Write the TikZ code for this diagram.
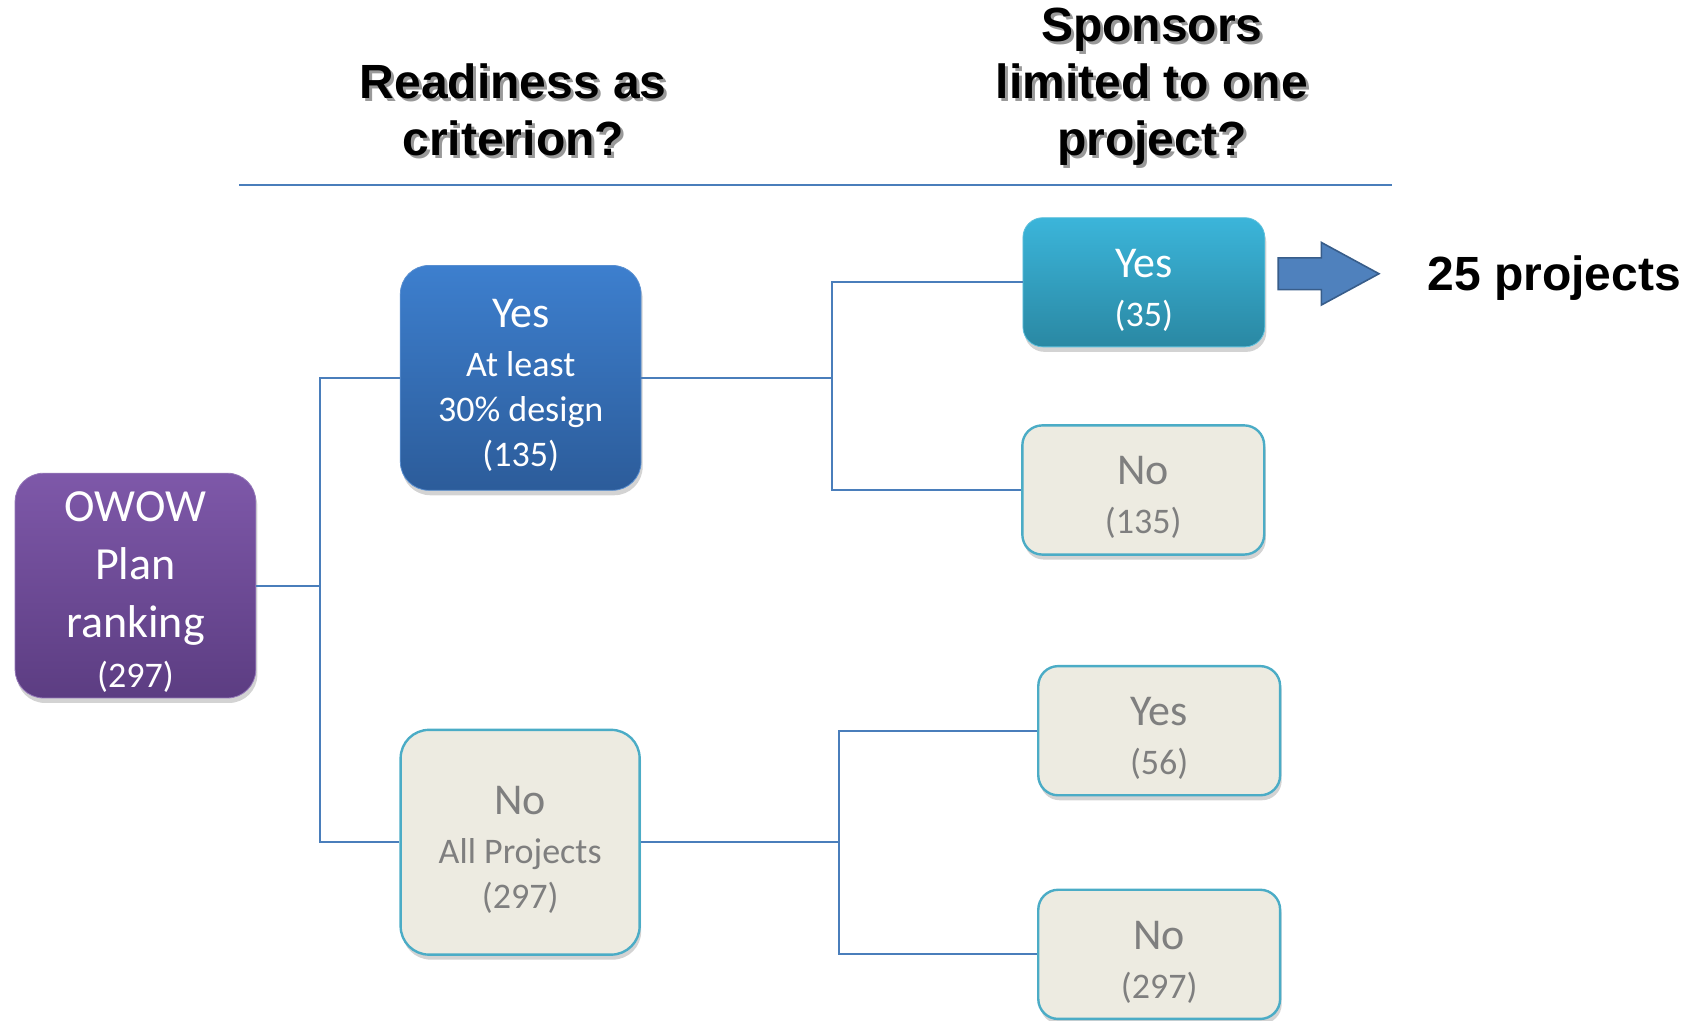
\documentclass[tikz,border=0pt]{standalone}
\usepackage{fontspec}
\setmainfont{Carlito}
\newfontfamily\hdfont{Liberation Sans}
\usetikzlibrary{positioning,shapes.arrows,shadows}

\definecolor{owowtop}{HTML}{7E58A9}
\definecolor{owowbot}{HTML}{5C3D82}
\definecolor{owowedge}{HTML}{9478B8}
\definecolor{bluetop}{HTML}{3D7FCE}
\definecolor{bluebot}{HTML}{2C5C9A}
\definecolor{blueedge}{HTML}{5A8FD0}
\definecolor{tealtop}{HTML}{3BB5DA}
\definecolor{tealbot}{HTML}{2A88A3}
\definecolor{tealedge}{HTML}{5FC0DC}
\definecolor{boxfill}{HTML}{EDEBE1}
\definecolor{boxedge}{HTML}{4BACC6}
\definecolor{boxtext}{HTML}{7F7F7F}
\definecolor{connblue}{HTML}{4A7EBB}
\definecolor{arrfill}{HTML}{4F81BD}
\definecolor{arredge}{HTML}{385D8A}

\newcommand{\bigword}[1]{{\fontsize{22}{26}\selectfont\rule{0pt}{22pt}#1}}
\newcommand{\shadowed}[1]{\rlap{\textcolor{black!40}{\hspace{1.5pt}\raisebox{-1.5pt}{#1}}}#1}

\begin{document}
\begin{tikzpicture}[
    bigbox/.style={rounded corners=0.5cm, minimum width=4.23cm, minimum height=3.95cm,
      drop shadow={opacity=0.35, shadow xshift=0.8pt, shadow yshift=-2.5pt}},
    smallbox/.style={rounded corners=0.35cm, minimum width=4.25cm, minimum height=2.27cm,
      drop shadow={opacity=0.35, shadow xshift=0.8pt, shadow yshift=-2.5pt}},
    purplebox/.style={top color=owowtop, bottom color=owowbot, draw=owowedge, text=white},
    bluebox/.style={top color=bluetop, bottom color=bluebot, draw=blueedge, text=white},
    tealbox/.style={top color=tealtop, bottom color=tealbot, draw=tealedge, text=white},
    greybox/.style={fill=boxfill, draw=boxedge, line width=1.2pt, text=boxtext},
    conn/.style={draw=connblue, line width=1pt},
    header/.style={font=\hdfont\bfseries\fontsize{24}{28.5}\selectfont}
  ]
	\useasboundingbox (0, 0) rectangle (29.68, -17.94);
	\begin{scope}
		\tikzstyle{every node}=[align=center, inner sep=0.2em, font=\fontsize{18}{22.5}\selectfont]

		\node[header] (hdready) at (9.02, -1.95) {\shadowed{Readiness as}\\\shadowed{criterion?}};
		\node[header] (hdspons) at (20.24, -1.55) {\shadowed{Sponsors}\\\shadowed{limited to one}\\\shadowed{project?}};
		\coordinate (rulel) at (4.20, -3.25);
		\coordinate (ruler) at (24.46, -3.25);
		\draw [connblue, line width=1pt] (rulel) -- (ruler);

		\node[bigbox, purplebox, font=\fontsize{23}{29}\selectfont] (owow) at (2.38, -10.29)
			{\rule{0pt}{21pt}OWOW\\Plan\\ranking\\[-4pt]{\fontsize{18}{22}\selectfont (297)}};

		\node[bigbox, bluebox] (yesA) at (9.15, -6.64) {\bigword{Yes}\\[2pt]At least\\30\% design\\(135)};
		\node[bigbox, greybox, minimum width=4.2cm] (noA) at (9.14, -14.80) {\bigword{No}\\[2pt]All Projects\\(297)};

		\node[smallbox, tealbox] (yesB) at (20.10, -4.96) {\bigword{Yes}\\[2pt](35)};
		\node[smallbox, greybox] (noB) at (20.09, -8.61) {\bigword{No}\\[2pt](135)};
		\node[smallbox, greybox] (yesC) at (20.37, -12.84) {\bigword{Yes}\\[2pt](56)};
		\node[smallbox, greybox] (noC) at (20.37, -16.77) {\bigword{No}\\[2pt](297)};

		\node[single arrow, fill=arrfill, draw=arredge, line width=0.8pt, inner xsep=0, inner ysep=0.265cm,
			minimum height=1.77cm, minimum width=1.07cm, single arrow head extend=0.27cm,
			single arrow tip angle=57] (arr) at (23.09, -4.81) {};
		\node[anchor=base west, inner sep=0, font=\hdfont\bfseries\fontsize{24}{28.5}\selectfont]
			(result) at (25.08, -5.11) {25 projects};

		\coordinate (j1) at (5.62, -10.29);
		\coordinate (j2) at (14.62, -6.64);
		\coordinate (j3) at (14.74, -14.80);

		\draw [conn] (owow.east) -- (j1);
		\draw [conn] (yesA.west) -| (j1) |- (noA.west);

		\draw [conn] (yesA.east) -- (j2);
		\draw [conn] (yesB.west) -| (j2) |- (noB.west);

		\draw [conn] (noA.east) -- (j3);
		\draw [conn] (yesC.west) -| (j3) |- (noC.west);

	\end{scope}
\end{tikzpicture}
\end{document}
